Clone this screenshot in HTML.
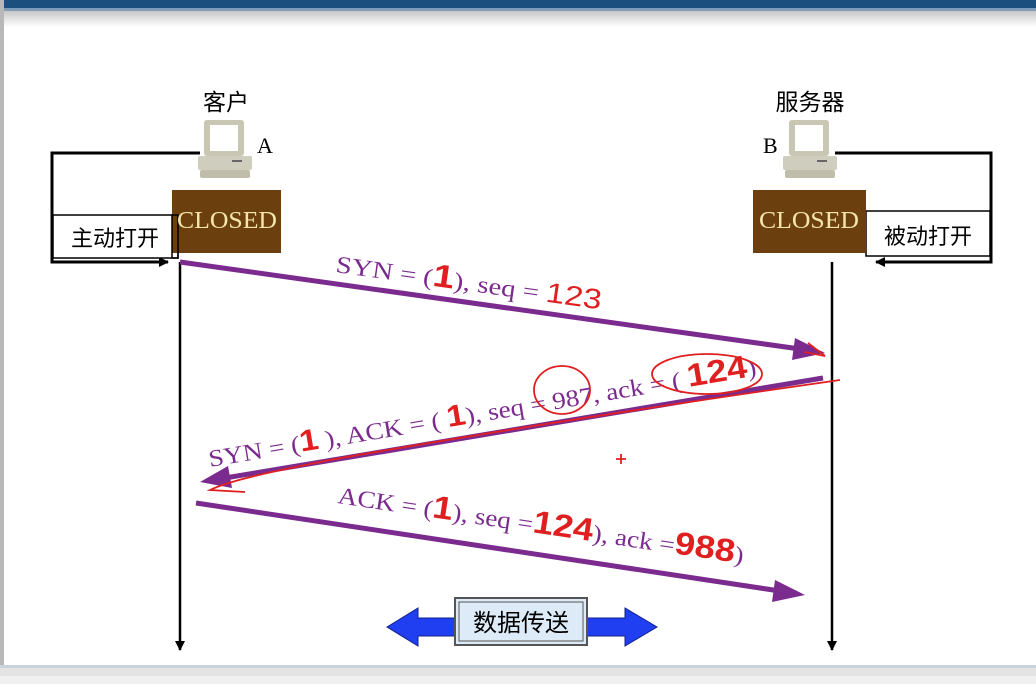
<!DOCTYPE html>
<html><head><meta charset="utf-8"><style>
html,body{margin:0;padding:0;width:1036px;height:684px;overflow:hidden;background:#fff}
svg{display:block}
.cn{font-family:"Liberation Sans","Noto Sans CJK SC",sans-serif}
.sr{font-family:"Liberation Serif",serif}
</style></head><body>
<svg width="1036" height="684" viewBox="0 0 1036 684" xmlns="http://www.w3.org/2000/svg">
<defs>
<linearGradient id="tg" x1="0" y1="0" x2="0" y2="1"><stop offset="0" stop-color="#c8c8c8"/><stop offset="1" stop-color="#ffffff"/></linearGradient>
<marker id="ab" markerWidth="10" markerHeight="10" refX="9" refY="5" orient="auto" markerUnits="userSpaceOnUse"><path d="M0,0 L10,5 L0,10 Z" fill="#000"/></marker>
</defs>
<rect x="0" y="0" width="1036" height="8" fill="#1a4f7e"/>
<rect x="0" y="8" width="1036" height="3" fill="#7f9cb8"/>
<rect x="0" y="11" width="1036" height="16" fill="url(#tg)"/>
<rect x="0" y="0" width="4" height="670" fill="#b8b8b8"/>
<rect x="0" y="665" width="1036" height="3" fill="#c9d3dc"/>
<rect x="0" y="668" width="1036" height="16" fill="#e4e4e4"/>
<rect x="0" y="676" width="1036" height="8" fill="#f0f0f0"/>

<!-- client -->
<text x="226" y="110" class="cn" font-size="23" text-anchor="middle">客户</text>
<g transform="translate(198,120)">
<rect x="6" y="0" width="40" height="36" rx="3" fill="#c9c6b3"/><rect x="12" y="5" width="28" height="26" fill="#fff"/>
<rect x="0" y="36" width="54" height="14" rx="2" fill="#cfcdbd"/><rect x="34" y="40" width="10" height="2" fill="#666"/>
<rect x="2" y="50" width="50" height="8" rx="2" fill="#c0bdaa"/>
</g>
<text x="257" y="153" class="sr" font-size="22">A</text>
<polyline points="200,153 52,153 52,262 168,262" fill="none" stroke="#000" stroke-width="3" marker-end="url(#ab)"/>
<rect x="53" y="215" width="125" height="43" fill="#fff" stroke="#000" stroke-width="1.5"/>
<text x="115" y="246" class="cn" font-size="22" text-anchor="middle">主动打开</text>
<rect x="172" y="190" width="109" height="63" fill="#6b3f0e"/>
<rect x="172" y="215" width="6" height="43" fill="none" stroke="#000" stroke-width="1.5"/>
<text x="227" y="228" class="sr" font-size="24" fill="#f3e6a8" text-anchor="middle" textLength="100" lengthAdjust="spacingAndGlyphs">CLOSED</text>
<line x1="180" y1="262" x2="180" y2="650" stroke="#000" stroke-width="2.5" marker-end="url(#ab)"/>

<!-- server -->
<text x="810" y="110" class="cn" font-size="23" text-anchor="middle">服务器</text>
<g transform="translate(783,120)">
<rect x="6" y="0" width="40" height="36" rx="3" fill="#c9c6b3"/><rect x="12" y="5" width="28" height="26" fill="#fff"/>
<rect x="0" y="36" width="54" height="14" rx="2" fill="#cfcdbd"/><rect x="34" y="40" width="10" height="2" fill="#666"/>
<rect x="2" y="50" width="50" height="8" rx="2" fill="#c0bdaa"/>
</g>
<text x="763" y="153" class="sr" font-size="22">B</text>
<polyline points="835,153 991,153 991,262 876,262" fill="none" stroke="#000" stroke-width="3" marker-end="url(#ab)"/>
<rect x="866" y="211" width="124" height="45" fill="#fff" stroke="#000" stroke-width="1.5"/>
<text x="928" y="244" class="cn" font-size="22" text-anchor="middle">被动打开</text>
<rect x="753" y="190" width="113" height="63" fill="#6b3f0e"/>
<text x="809" y="228" class="sr" font-size="24" fill="#f3e6a8" text-anchor="middle" textLength="100" lengthAdjust="spacingAndGlyphs">CLOSED</text>
<line x1="832" y1="262" x2="832" y2="650" stroke="#000" stroke-width="2.5" marker-end="url(#ab)"/>

<!-- purple arrows -->
<g stroke="#7b2a8e" stroke-width="5" fill="#7b2a8e">
<line x1="180" y1="262" x2="800" y2="349"/>
<polygon points="825,353 795,338 792,360" stroke="none"/>
<line x1="823" y1="378" x2="225" y2="478"/>
<polygon points="200,482 228,466 232,488" stroke="none"/>
<line x1="196" y1="503" x2="780" y2="591"/>
<polygon points="805,595 775,580 772,602" stroke="none"/>
</g>
<g class="sr" fill="#7b2a8e" font-size="24">
<text transform="translate(335,272) rotate(8)" textLength="268" lengthAdjust="spacingAndGlyphs">SYN = (<tspan fill="#e02020" font-family="Liberation Sans" font-weight="bold" font-size="32">1</tspan>), seq = <tspan fill="#e02020" font-family="Liberation Sans" font-size="28">123</tspan></text>
<text transform="translate(210,467) rotate(-9.5)" textLength="555" lengthAdjust="spacingAndGlyphs">SYN = (<tspan fill="#e02020" font-family="Liberation Sans" font-weight="bold" font-size="30">1</tspan> ), ACK = ( <tspan fill="#e02020" font-family="Liberation Sans" font-weight="bold" font-size="30">1</tspan>), seq = 987, ack = ( <tspan fill="#e02020" font-family="Liberation Sans" font-weight="bold" font-size="32">124</tspan>)</text>
<text transform="translate(337,503) rotate(8.5)" textLength="410" lengthAdjust="spacingAndGlyphs">ACK = (<tspan fill="#e02020" font-family="Liberation Sans" font-weight="bold" font-size="32">1</tspan>), seq =<tspan fill="#e02020" font-family="Liberation Sans" font-weight="bold" font-size="32">124</tspan>), ack =<tspan fill="#e02020" font-family="Liberation Sans" font-weight="bold" font-size="32">988</tspan>)</text>
</g>
<!-- red annotations -->
<g fill="none" stroke="#e02020" stroke-width="1.8">
<ellipse cx="562" cy="390" rx="28" ry="24"/>
<ellipse cx="707" cy="374" rx="55" ry="20"/>
<path d="M840,380 C700,400 500,430 330,460 C280,470 230,480 210,490 L245,492"/>
<path d="M804,352 L825,356 L808,343"/>
<path d="M616,459 h10 M621,454 v10"/>
</g>

<!-- data transfer -->
<polygon points="387,627 418,608 418,618 625,618 625,608 657,627 625,646 625,636 418,636 418,646" fill="#1f3ff0" stroke="#12208a" stroke-width="1"/>
<rect x="455" y="598" width="132" height="47" fill="#dcebf7" stroke="#555" stroke-width="2"/>
<rect x="459" y="602" width="124" height="39" fill="none" stroke="#555" stroke-width="1"/>
<text x="521" y="631" class="cn" font-size="24" text-anchor="middle">数据传送</text>
</svg>
</body></html>
